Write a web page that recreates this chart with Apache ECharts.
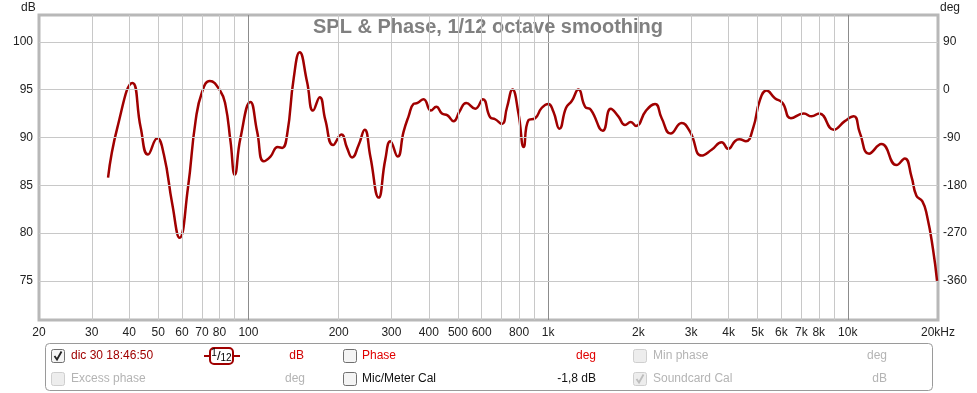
<!DOCTYPE html>
<html><head><meta charset="utf-8">
<script src="https://cdn.jsdelivr.net/npm/echarts@6/dist/echarts.min.js"></script>
<style>html,body{margin:0;padding:0;background:#fff}#c{width:977px;height:393px}</style>
</head><body><div id="c"></div>
<script>
// ---- data ----
var freqHz = [34.0,36.5,41.0,43.7,46.2,49.6,52.2,55.7,58.9,62.8,66.6,70.1,74.3,80.7,83.8,87.1,90.0,94.0,101.5,106.9,112.4,118.4,125.2,129.5,134.6,141.6,148.2,156.9,164.3,172.9,180.6,191.6,204.2,213.3,221.7,233.2,244.2,255.1,271.9,286.2,297.4,314.6,329.4,342.2,355.6,366.7,384,406.4,423.3,442.2,461.6,483.4,506.2,533.1,571.1,605.8,640.7,665.6,701,728.5,760.3,796.2,829,859.8,905,952.7,1002,1041,1091,1148,1199,1262,1329,1388,1522,1618,1715,1806,1887,1965,2122,2274,2393,2564,2790,2974,3253,3513,3793,3990,4201,4342,4571,4834,5090,5358,5711,6058,6457,7135,7568,8024,8980,9772,10471,10965,11776,12950,14531,15488,16312,16943,17742,18381,19248,19857];
var splDb = [85.8,91.0,95.7,91.0,88.2,89.9,88.2,83.0,79.5,84.7,91.7,94.8,95.9,94.8,93.4,89.6,86.1,89.9,93.7,90.6,87.5,88.0,89.0,88.9,90.3,96.2,98.9,95.8,92.8,94.2,91.8,89.2,90.3,88.9,87.9,89.2,90.8,88.0,83.7,87.7,89.6,88.0,90.6,92.2,93.5,93.6,94.0,92.8,93.2,92.5,92.3,91.7,92.7,93.6,93.0,94.0,92.1,91.9,91.4,93.1,95.0,92.5,89.0,91.8,92.0,93.1,93.5,92.7,90.9,93.1,93.8,95.0,93.2,92.9,90.7,93.0,92.2,91.3,91.6,91.2,92.8,93.5,92.0,90.4,91.5,90.6,88.1,88.7,89.5,88.8,89.6,89.8,89.6,91.0,93.9,94.9,94.1,93.6,92.0,92.5,92.2,92.5,90.8,91.7,92.2,90.5,88.3,89.3,87.1,87.8,85.9,83.9,83.3,81.8,78.3,75.0];
var xTickValues = [20,30,40,50,60,70,80,100,200,300,400,500,600,800,1000,2000,3000,4000,5000,6000,7000,8000,10000,20000];
var xGridValues = [30,40,50,60,70,80,90,100,200,300,400,500,600,700,800,900,1000,2000,3000,4000,5000,6000,7000,8000,9000,10000];
var xMajorValues = [100,1000,10000];
var dbTickValues = [75,80,85,90,95,100];
var degTickValues = [90,0,-90,-180,-270,-360];
var dbRange = [70.9,102.8];
var degRange = [-433.8,140.4];

var FONT = '"Liberation Sans", Arial, sans-serif';
var chart = echarts.init(document.getElementById('c'), null, {renderer:'canvas'});

var gridLines = [];
xGridValues.forEach(function(v){
  gridLines.push({xAxis:v, lineStyle:{color: xMajorValues.indexOf(v)>=0 ? '#8c8c8c' : '#c8c8c8', width:1, type:'solid'}});
});
dbTickValues.forEach(function(v){
  gridLines.push({yAxis:v, lineStyle:{color:'#c8c8c8', width:1, type:'solid'}});
});

function xFmt(v){
  v = Math.round(v);
  if (v === 20000) return '20kHz';
  if (v >= 1000) return (v/1000) + 'k';
  return String(v);
}

var pairs = freqHz.map(function(f,i){ return [f, splDb[i]]; });

function txt(x,y,t,color,align,extra){
  var o = {type:'text', x:x, y:y, style:{text:t, fill:color, font:'12px '+FONT, textAlign:align||'left', textVerticalAlign:'middle'}};
  if (extra) for (var k in extra) o.style[k]=extra[k];
  return o;
}
function box(x,y,enabled,checked){
  var g = [{type:'rect', shape:{x:x+0.5,y:y+0.5,width:13,height:13,r:2},
    style:{fill: enabled ? '#f4f4f4' : '#ededed', stroke: enabled ? '#707070' : '#cfcfcf', lineWidth:1}}];
  if (checked) g.push({type:'polyline', shape:{points:[[x+3.5,y+7],[x+6,y+10.5],[x+10.5,y+2.5]]},
    style:{stroke: enabled ? '#222' : '#bdbdbd', lineWidth:1.8, fill:null}});
  return g;
}

var graphics = [
  {type:'text', x:488, y:27, style:{text:'SPL & Phase, 1/12 octave smoothing', fill:'#808080', font:'bold 20px '+FONT, textAlign:'center', textVerticalAlign:'middle'}},
  txt(21,8,'dB','#222'),
  txt(940,8,'deg','#222'),
  {type:'rect', shape:{x:45.5,y:343.5,width:887,height:47,r:4}, style:{fill:'#fff', stroke:'#9a9a9a', lineWidth:1}},
  txt(71,356,'dic 30 18:46:50','#a00000'),
  {type:'line', shape:{x1:204,y1:356,x2:240,y2:356}, style:{stroke:'#a00000', lineWidth:2}},
  {type:'rect', shape:{x:210,y:348,width:23,height:16,r:4}, style:{fill:'#fff', stroke:'#a00000', lineWidth:2}},
  {type:'text', x:221.5, y:356, style:{text:'{a|1}{b|/}{c|12}', textAlign:'center', textVerticalAlign:'middle',
    rich:{a:{font:'10px '+FONT, fill:'#000', padding:[0,0,5,0]}, b:{font:'13px '+FONT, fill:'#000'}, c:{font:'10px '+FONT, fill:'#000', padding:[5,0,0,0]}}}},
  txt(304,356,'dB','#d00000','right'),
  txt(362,356,'Phase','#e00000'),
  txt(596,356,'deg','#e00000','right'),
  txt(653,356,'Min phase','#b4b4b4'),
  txt(887,356,'deg','#b4b4b4','right'),
  txt(71,379,'Excess phase','#b4b4b4'),
  txt(305,379,'deg','#b4b4b4','right'),
  txt(362,379,'Mic/Meter Cal','#111'),
  txt(596,379,'-1,8 dB','#111','right'),
  txt(653,379,'Soundcard Cal','#b4b4b4'),
  txt(887,379,'dB','#b4b4b4','right')
].concat(box(51,349,true,true), box(51,372,false,false), box(343,349,true,false), box(343,372,true,false),
         box(633,349,false,false), box(633,372,false,true));

chart.setOption({
  animation:false,
  backgroundColor:'#fff',
  grid:{left:39, right:39, top:15, bottom:73, show:true, borderColor:'#b8b8b8', borderWidth:3, backgroundColor:'#fff', containLabel:false},
  xAxis:{type:'log', logBase:10, min:20, max:20000,
    axisLine:{show:false}, axisTick:{show:false}, splitLine:{show:false}, minorSplitLine:{show:false},
    axisLabel:{customValues:xTickValues, formatter:xFmt, color:'#222', fontSize:12, fontFamily:FONT, margin:7, showMinLabel:true, showMaxLabel:true, hideOverlap:false}},
  yAxis:[
    {type:'value', min:dbRange[0], max:dbRange[1], position:'left',
      axisLine:{show:false}, axisTick:{show:false}, splitLine:{show:false},
      axisLabel:{customValues:dbTickValues, color:'#222', fontSize:12, fontFamily:FONT, margin:6}},
    {type:'value', min:degRange[0], max:degRange[1], position:'right',
      axisLine:{show:false}, axisTick:{show:false}, splitLine:{show:false},
      axisLabel:{customValues:degTickValues, color:'#222', fontSize:12, fontFamily:FONT, margin:5}}
  ],
  series:[
    {type:'line', z:1, data:pairs, showSymbol:false, silent:true, lineStyle:{opacity:0, width:0},
      markLine:{silent:true, symbol:['none','none'], label:{show:false}, data:gridLines, animation:false}},
    {type:'line', z:3, data:pairs, showSymbol:false, smooth:0.5, silent:true,
      lineStyle:{color:'#a00000', width:2.5}}
  ],
  graphic:graphics
});
</script></body></html>
